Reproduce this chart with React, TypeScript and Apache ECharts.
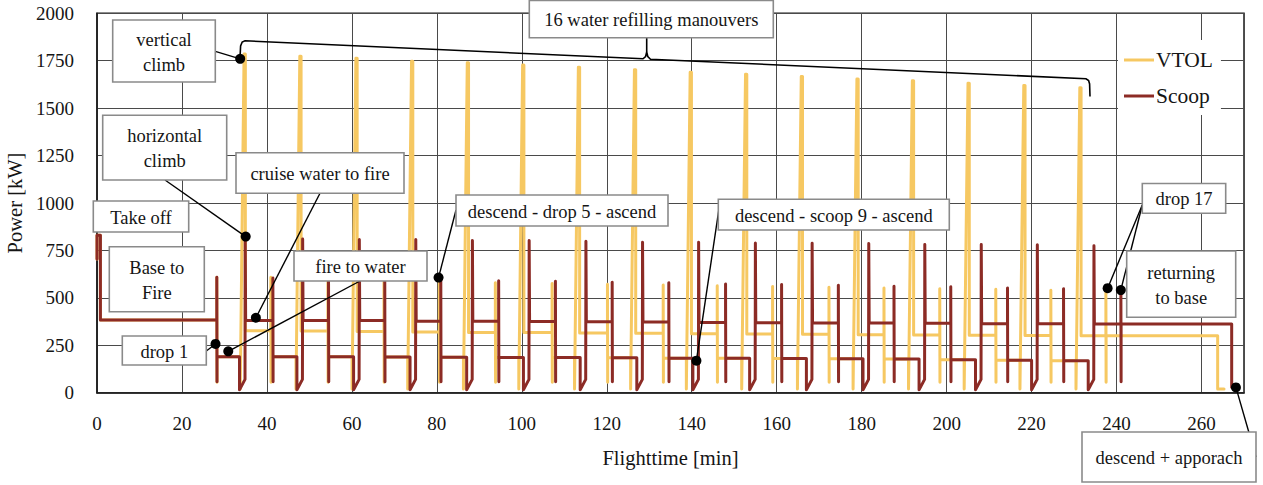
import React, { useEffect, useRef } from "react";
import * as echarts from "echarts";

const FONT = "Liberation Serif";
const VTOL_COLOR = "#F6C862";
const SCOOP_COLOR = "#8C2B25";

// ---------- data ----------
// take-off and cruise base -> fire (shared by both aircraft)
const departTime = [0, 0, 0.8, 0.8, 28.2];
const departPower = [705, 830, 830, 383, 383];

// Scoop aircraft
const scoopDropTime = [28.2, 41.4, 54.5, 67.74, 80.93, 94.55, 107.91, 121.27, 134.6, 147.96, 161.15, 174.51, 187.61, 200.97, 214.33, 227.52, 241.02];
const scoopDropPower = [608, 605, 603, 600, 597, 590, 587, 582, 579, 573, 570, 566, 561, 559, 552, 548, 536];
const scoopDropLow = 58;
const scoopCruiseToWater = [190, 190, 189, 188, 187, 186, 185, 184, 182, 181, 180, 179, 177, 174, 171, 169];
const scoopPeakTime = [34.94, 48.46, 61.8, 75.09, 88.42, 101.78, 115.14, 128.47, 141.67, 155.03, 168.39, 181.72, 194.91, 208.2, 221.4, 234.73];
const scoopPeakPower = [815, 810, 807, 807, 802, 802, 798, 793, 793, 789, 788, 786, 781, 781, 780, 774];
const scoopWaterLow = 15;
const scoopWaterLift = 70;
const scoopCruiseToFire = [381, 380, 380, 377, 376, 375, 374, 373, 370, 369, 368, 367, 366, 364, 363, 362];
const scoopReturnPower = 362;
const scoopArrivalTime = [267.1, 267.1, 268.0];
const scoopArrivalPower = [362, 28, 20];

// VTOL aircraft
const vtolCruiseToWater = [190, 189, 189, 188, 187, 186, 185, 184, 182, 181, 180, 179, 177, 174, 171, 169];
const vtolPeakTime = [34.87, 47.99, 61.19, 74.29, 87.41, 100.44, 113.56, 126.76, 139.88, 152.91, 166.03, 179.13, 192.18, 205.28, 218.41, 231.6];
const vtolPeakPower = [1786, 1774, 1763, 1747, 1739, 1728, 1716, 1702, 1689, 1679, 1667, 1654, 1644, 1631, 1619, 1607];
const vtolWaterLow = 20;
const vtolCruiseToFire = [327, 325, 323, 320, 318, 317, 315, 313, 311, 309, 308, 306, 304, 303, 301, 300];
const vtolDropTime = [40.92, 54.35, 67.55, 80.58, 93.77, 107.13, 120.16, 133.28, 146.0, 159.03, 172.3, 185.25, 198.38, 211.57, 224.53, 237.49];
const vtolDropPower = [608, 600, 592, 583, 580, 576, 572, 568, 564, 560, 556, 552, 548, 545, 540, 537];
const vtolDropLow = 55;
const vtolReturnPower = 300;
const vtolArrivalTime = [263.8, 263.8, 265.3];
const vtolArrivalPower = [300, 20, 20];

// ---------- series construction ----------
function buildScoop(): number[][] {
  const pts: number[][] = [];
  departTime.forEach((t, i) => pts.push([t, departPower[i]]));
  for (let k = 0; k < scoopDropTime.length; k++) {
    const d = scoopDropTime[k];
    const before = k === 0 ? departPower[departPower.length - 1] : scoopCruiseToFire[k - 1];
    const after = k < scoopCruiseToWater.length ? scoopCruiseToWater[k] : scoopReturnPower;
    pts.push([d, before], [d, scoopDropPower[k]], [d + 0.05, scoopDropLow], [d + 0.05, after]);
    if (k < scoopPeakTime.length) {
      const s = scoopPeakTime[k];
      pts.push(
        [s - 1.4, after],
        [s - 1.4, scoopWaterLow],
        [s - 0.1, scoopWaterLift],
        [s - 0.05, scoopPeakPower[k]],
        [s + 0.05, scoopPeakPower[k]],
        [s + 0.05, scoopCruiseToFire[k]]
      );
    }
  }
  scoopArrivalTime.forEach((t, i) => pts.push([t, scoopArrivalPower[i]]));
  return pts;
}

function buildVtol(): number[][] {
  const pts: number[][] = [];
  departTime.forEach((t, i) => pts.push([t, departPower[i]]));
  const d0 = scoopDropTime[0];
  pts.push([d0, departPower[departPower.length - 1]], [d0, scoopDropPower[0]], [d0 + 0.05, vtolDropLow], [d0 + 0.05, vtolCruiseToWater[0]]);
  for (let k = 0; k < vtolPeakTime.length; k++) {
    const p = vtolPeakTime[k];
    const f = vtolCruiseToWater[k];
    pts.push(
      [p - 1.15, f],
      [p - 1.15, vtolWaterLow],
      [p - 1.05, vtolWaterLow],
      [p - 0.25, vtolPeakPower[k]],
      [p + 0.05, vtolPeakPower[k]],
      [p + 0.05, vtolCruiseToFire[k]]
    );
    const d = vtolDropTime[k];
    const after = k + 1 < vtolCruiseToWater.length ? vtolCruiseToWater[k + 1] : vtolReturnPower;
    pts.push([d, vtolCruiseToFire[k]], [d, vtolDropPower[k]], [d + 0.05, vtolDropLow], [d + 0.05, after]);
  }
  vtolArrivalTime.forEach((t, i) => pts.push([t, vtolArrivalPower[i]]));
  return pts;
}

// ---------- annotations (layout) ----------
type Box = { lines: string[]; rect: [number, number, number, number] };
const boxes: Box[] = [
  { lines: ["vertical", "climb"], rect: [112.7, 20, 102.6, 62] },
  { lines: ["horizontal", "climb"], rect: [102.7, 115.3, 124, 64.7] },
  { lines: ["cruise water to fire"], rect: [236, 152.7, 168, 40.6] },
  { lines: ["Take off"], rect: [93.3, 201, 95.4, 31] },
  { lines: ["Base to", "Fire"], rect: [109.3, 246.7, 95, 65] },
  { lines: ["drop 1"], rect: [122.3, 336, 84, 29] },
  { lines: ["fire to water"], rect: [294, 251, 133, 30] },
  { lines: ["descend - drop 5 - ascend"], rect: [456, 195, 212, 31] },
  { lines: ["16 water refilling manouvers"], rect: [529.3, 0.5, 244, 37.2] },
  { lines: ["descend - scoop 9 - ascend"], rect: [718.3, 199.3, 231, 30.7] },
  { lines: ["drop 17"], rect: [1142.3, 183.5, 83.4, 29.8] },
  { lines: ["returning", "to base"], rect: [1126.7, 251, 109, 66.3] },
  { lines: ["descend + apporach"], rect: [1082, 432, 174, 50] },
];

// leader: from a pixel on the box to a point on the curves (data coords)
const leaders: { from: [number, number]; dot: [number, number] }[] = [
  { from: [215.3, 51.3], dot: [33.7, 1760] },
  { from: [165, 180], dot: [35.0, 823] },
  { from: [320, 193.3], dot: [37.4, 395] },
  { from: [206.3, 351], dot: [27.9, 257] },
  { from: [360, 281], dot: [30.9, 218] },
  { from: [456, 210], dot: [80.4, 607] },
  { from: [719.3, 206.7], dot: [141.1, 169] },
  { from: [1142.3, 205], dot: [237.9, 551] },
  { from: [1142.3, 205], dot: [241.0, 541] },
  { from: [1256, 457], dot: [268.1, 28] },
];

const bracePoints = [
  [240, 58], [240.6, 46], [242.2, 42], [245, 40.8], [643, 58.8], [645.6, 56.5], [646.7, 52],
  [647.8, 56.5], [650.5, 59.2], [1086, 78.8], [1088.6, 80.6], [1089.6, 84], [1090, 96.5],
];
const braceStem = [[646.7, 37.7], [646.7, 52]];

function buildGraphics(px: (v: number[]) => number[]) {
  const els: any[] = [];
  leaders.forEach((l) => {
    const [x2, y2] = px(l.dot);
    els.push({ type: "line", silent: true, z: 100, shape: { x1: l.from[0], y1: l.from[1], x2, y2 }, style: { stroke: "#000", lineWidth: 1.4 } });
  });
  els.push({ type: "polyline", silent: true, z: 100, shape: { points: bracePoints }, style: { stroke: "#000", fill: null, lineWidth: 1.6 } });
  els.push({ type: "polyline", silent: true, z: 100, shape: { points: braceStem }, style: { stroke: "#000", fill: null, lineWidth: 1.6 } });
  boxes.forEach((b) => {
    const [x, y, w, h] = b.rect;
    els.push({ type: "rect", silent: true, z: 101, shape: { x, y, width: w, height: h }, style: { fill: "#fff", stroke: "#8a8a8a", lineWidth: 1.6 } });
    const cx = x + w / 2;
    const cy = y + h / 2 + 1;
    const n = b.lines.length;
    b.lines.forEach((txt, i) => {
      const ty = cy + (i - (n - 1) / 2) * 25;
      els.push({
        type: "text", silent: true, z: 102, x: cx, y: ty,
        style: {
          text: txt, fontFamily: FONT, fontSize: 18.5, fill: "#151515",
          align: "center", verticalAlign: "middle",
        },
      });
    });
  });
  leaders.forEach((l) => {
    const [cx, cy] = px(l.dot);
    els.push({ type: "circle", silent: true, z: 103, shape: { cx, cy, r: 5 }, style: { fill: "#000" } });
  });
  return els;
}

export default function App() {
  const ref = useRef<HTMLDivElement>(null);
  useEffect(() => {
    const chart = echarts.init(ref.current as HTMLDivElement, undefined, { renderer: "svg" });
    const axisText = { fontFamily: FONT, fontSize: 19, color: "#151515" };
    chart.setOption({
      animation: false,
      backgroundColor: "#fff",
      textStyle: { fontFamily: FONT },
      grid: {
        left: 97, right: 19, top: 13.3, bottom: 92.3, show: true, borderColor: "#1a1a1a", borderWidth: 1.5,
        containLabel: false, outerBoundsMode: "none",
      },
      legend: {
        data: ["VTOL", "Scoop"],
        orient: "vertical",
        left: 1118,
        top: 40,
        padding: [9, 8, 8, 6],
        backgroundColor: "#fff",
        icon: "rect",
        itemWidth: 30,
        itemHeight: 3,
        itemGap: 14,
        textStyle: { fontFamily: FONT, fontSize: 21.5, color: "#151515", padding: [0, 0, 0, -3] },
      },
      xAxis: {
        type: "value", min: 0, max: 270, interval: 20,
        name: "Flighttime [min]", nameLocation: "middle", nameGap: 55,
        nameTextStyle: { fontFamily: FONT, fontSize: 20.5, color: "#151515" },
        axisLine: { show: true, lineStyle: { color: "#1a1a1a", width: 1.5 } },
        axisTick: { show: false },
        axisLabel: { ...axisText, margin: 21, showMaxLabel: false, formatter: (v: number) => String(v) },
        splitLine: { show: true, lineStyle: { color: "#4a4a4a", width: 1 } },
      },
      yAxis: {
        type: "value", min: 0, max: 2000, interval: 250,
        name: "Power [kW]", nameLocation: "middle", nameGap: 70,
        nameTextStyle: { fontFamily: FONT, fontSize: 20.5, color: "#151515" },
        axisLine: { show: true, lineStyle: { color: "#1a1a1a", width: 1.5 } },
        axisTick: { show: false },
        axisLabel: { ...axisText, margin: 23, formatter: (v: number) => String(v) },
        splitLine: { show: true, lineStyle: { color: "#4a4a4a", width: 1 } },
      },
      series: [
        {
          name: "VTOL", type: "line", data: buildVtol(), symbol: "none", showSymbol: false, z: 2, silent: true,
          itemStyle: { color: VTOL_COLOR },
          lineStyle: { color: VTOL_COLOR, width: 3, cap: "round", join: "round" },
        },
        {
          name: "Scoop", type: "line", data: buildScoop(), symbol: "none", showSymbol: false, z: 3, silent: true,
          itemStyle: { color: SCOOP_COLOR },
          lineStyle: { color: SCOOP_COLOR, width: 3, cap: "round", join: "round" },
        },
      ],
    });
    const px = (v: number[]) => chart.convertToPixel({ gridIndex: 0 }, v) as number[];
    chart.setOption({ graphic: { elements: buildGraphics(px) } });
    return () => chart.dispose();
  }, []);
  return (
    <div
      ref={ref}
      style={{ position: "fixed", left: 0, top: 0, width: 1263, height: 485, background: "#fff" }}
    />
  );
}
